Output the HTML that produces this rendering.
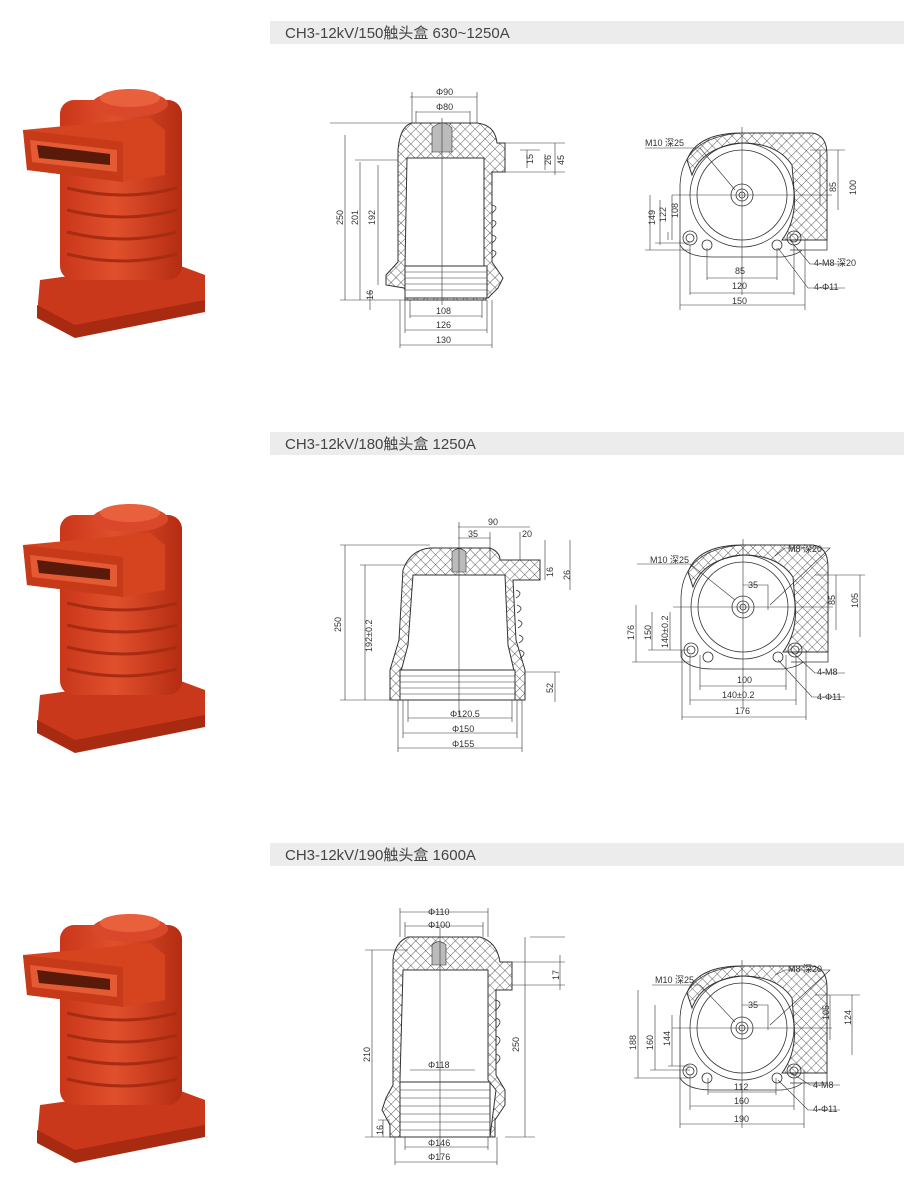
<!DOCTYPE html>
<html><head><meta charset="utf-8"><style>
body{margin:0;background:#fff;}
svg{display:block}
text{font-family:"Liberation Sans","Noto Sans CJK SC",sans-serif;fill:#333}
.h{font-size:15px;fill:#444}
.d{font-size:9px}
.l{stroke:#333;stroke-width:0.8;fill:none}
.t{stroke:#333;stroke-width:0.6;fill:none}
.hx{fill:url(#xh);stroke:#333;stroke-width:1;fill-rule:evenodd}
</style></head><body>
<svg width="904" height="1187" viewBox="0 0 904 1187" xmlns="http://www.w3.org/2000/svg">
<defs>
<pattern id="xh" width="7" height="7" patternUnits="userSpaceOnUse" patternTransform="rotate(45)">
<rect width="7" height="7" fill="#fff"/><path d="M0 0H7M0 0V7" stroke="#333" stroke-width="0.8"/>
</pattern>
<linearGradient id="rg" x1="0" x2="1"><stop offset="0" stop-color="#c9361a"/><stop offset="0.45" stop-color="#e0502c"/><stop offset="1" stop-color="#b52c12"/></linearGradient>
<g id="prod">
<path d="M35 190 L165 172 L200 185 L200 220 L70 245 L32 225 Z" fill="#c9381b"/>
<path d="M32 215 L70 235 L200 210 L200 222 L70 248 L32 228Z" fill="#a82a10"/>
<rect x="55" y="10" width="122" height="180" rx="14" fill="url(#rg)"/>
<g fill="none" stroke="#a82c12" stroke-width="3">
<path d="M62 98 Q118 112 172 98"/><path d="M62 120 Q118 134 172 120"/><path d="M62 142 Q118 156 172 142"/><path d="M62 164 Q118 178 172 164"/></g>
<ellipse cx="125" cy="14" rx="38" ry="13" fill="#d9482a"/>
<ellipse cx="125" cy="8" rx="30" ry="9" fill="#e8603c"/>
<path d="M18 40 L145 28 L160 40 L160 85 L118 92 L22 80 Z" fill="#d5441f"/>
<path d="M18 40 L118 52 L118 92 L22 80 Z" fill="#c63a1a"/>
<path d="M25 50 L112 60 L112 82 L27 72Z" fill="#e35a33"/>
<path d="M32 55 L105 64 L105 75 L34 68Z" fill="#5a1a0a"/>
</g>
<g id="top">
<path class="hx" d="M-55 -35 Q-45 -62 0 -62 L70 -62 Q85 -60 85 -40 L85 45 L40 45 Q55 25 52 -5 L50 -30 Q35 -52 0 -52 Q-40 -48 -50 -20 Z"/>
<path class="l" d="M-62 50 L-62 -10 Q-60 -58 0 -62 M85 45 L85 55 L48 55 M-62 50 Q-55 62 -30 62 L40 62 Q55 60 60 55"/>
<circle class="l" cx="0" cy="0" r="52"/><circle class="l" cx="0" cy="0" r="45"/>
<circle class="l" cx="0" cy="0" r="11"/><circle class="l" cx="0" cy="0" r="6"/><circle class="l" cx="0" cy="0" r="3"/>
<circle class="l" cx="-52" cy="43" r="7"/><circle class="l" cx="-52" cy="43" r="4"/>
<circle class="l" cx="52" cy="43" r="7"/><circle class="l" cx="52" cy="43" r="4"/>
<circle class="l" cx="-35" cy="50" r="5"/><circle class="l" cx="35" cy="50" r="5"/>
<path class="t" d="M0 -68 V100 M-70 0 H90"/>
</g>
</defs>

<rect x="270" y="21" width="634" height="23" fill="#ececec"/>
<text class="h" x="285" y="38">CH3-12kV/150触头盒  630~1250A</text>
<rect x="270" y="432" width="634" height="23" fill="#ececec"/>
<text class="h" x="285" y="449">CH3-12kV/180触头盒  1250A</text>
<rect x="270" y="843" width="634" height="23" fill="#ececec"/>
<text class="h" x="285" y="860">CH3-12kV/190触头盒  1600A</text>

<use href="#prod" x="5" y="90"/>
<use href="#prod" x="5" y="505"/>
<use href="#prod" x="5" y="915"/>

<!-- Drawing 1 side -->
<path class="hx" d="M412 123 L477 123 Q495 125 497 143 L505 143 L505 172 L492 172 L492 262 L503 278 L498 288 L488 298 L410 298 L404 288 L386 285 L386 275 L398 262 L398 150 Q400 126 412 123 Z M407 158 L484 158 L484 268 L486 300 L405 300 L405 266 Z"/>
<rect x="405" y="266" width="82" height="32" fill="#fff" stroke="#333"/>
<path class="t" d="M405 272H487M405 278H487M405 284H487M405 290H487"/>
<path d="M432 128 Q443 118 452 128 L452 152 L432 152Z" fill="#bbb" stroke="#333" stroke-width=".6"/>
<path class="l" d="M492 205 q8 2 0 8 M492 220 q8 2 0 8 M492 235 q8 2 0 8 M492 250 q8 2 0 8"/>
<path class="t" d="M442 118 V305 M412 92 V123 M477 92 V123 M416 111V123M470 111V123 M410 97 H477 M416 112 H470
M330 123 H412 M345 135 V300 M355 160 H398 M360 162 V300 M378 165 V285 M340 300 H405 M370 290 V310
M505 143 H565 M505 172 H565 M520 150 H540 M545 154 V170 M555 143 V175 M527 150 V168
M400 300 V348 M492 300 V348 M405 300 V333 M487 300 V333 M410 300 V318 M482 300 V318 M410 316 H482 M405 330 H487 M400 345 H492"/>
<text class="d" x="436" y="95">Φ90</text><text class="d" x="436" y="110">Φ80</text>
<text class="d" transform="translate(343,225) rotate(-90)">250</text>
<text class="d" transform="translate(358,225) rotate(-90)">201</text>
<text class="d" transform="translate(375,225) rotate(-90)">192</text>
<text class="d" transform="translate(373,300) rotate(-90)">16</text>
<text class="d" transform="translate(533,164) rotate(-90)">15</text>
<text class="d" transform="translate(551,165) rotate(-90)">26</text>
<text class="d" transform="translate(564,165) rotate(-90)">45</text>
<text class="d" x="436" y="314">108</text><text class="d" x="436" y="328">126</text><text class="d" x="436" y="343">130</text>

<use href="#top" x="742" y="195"/>
<path class="t" d="M645 148 H700 L735 190 M668 232 V240 M650 195 V250 M660 200 V245 M672 195 V240 M645 250 H690 M655 243 H690
M820 150 V205 M838 150 V210 M810 150 H845 M707 248 V280 M777 248 V280 M707 278 H777 M690 245 V295 M794 245 V295 M690 293 H794 M680 240 V310 M805 240 V310 M680 305 H805
M790 240 L810 264 H845 M778 248 L808 288 H845"/>
<text class="d" x="645" y="146">M10 深25</text>
<text class="d" transform="translate(655,225) rotate(-90)">149</text>
<text class="d" transform="translate(666,222) rotate(-90)">122</text>
<text class="d" transform="translate(678,218) rotate(-90)">108</text>
<text class="d" transform="translate(836,192) rotate(-90)">85</text>
<text class="d" transform="translate(856,195) rotate(-90)">100</text>
<text class="d" x="735" y="274">85</text><text class="d" x="732" y="289">120</text><text class="d" x="732" y="304">150</text>
<text class="d" x="814" y="266">4-M8 深20</text><text class="d" x="814" y="290">4-Φ11</text>

<!-- Drawing 2 side -->
<path class="hx" d="M430 548 L490 548 Q500 552 500 560 L540 560 L540 580 L513 580 L516 640 L525 670 L525 700 L390 700 L390 670 L399 640 L403 570 Q410 550 430 548 Z M413 575 L505 575 L508 645 L515 675 L515 700 L400 700 L400 675 L408 645 Z"/>
<rect x="400" y="670" width="115" height="30" fill="#fff" stroke="#333"/>
<path class="t" d="M400 676H515M400 682H515M400 688H515M400 694H515"/>
<path class="l" d="M516 590 q8 3 0 8 M517 605 q8 3 0 8 M518 620 q8 3 0 8 M519 635 q8 3 0 8 M520 650 q8 3 0 8"/>
<path d="M452 552 Q459 545 466 552 L466 572 L452 572Z" fill="#bbb" stroke="#333" stroke-width=".6"/>
<path class="t" d="M459 522 V715 M458 527 H530 M458 538 H490 M490 532 V560 M520 532 V560 M340 545 H430 M345 545 V700 M365 565 V700 M360 565 H405 M340 700 H400 M545 540 V580 M570 540 V590 M555 672 V702 M525 672 H560
M408 700 V722 M512 700 V722 M408 718 H512 M403 700 V738 M517 700 V738 M403 733 H517 M398 700 V752 M522 700 V752 M398 748 H522"/>
<text class="d" x="488" y="525">90</text><text class="d" x="468" y="537">35</text><text class="d" x="522" y="537">20</text>
<text class="d" transform="translate(341,632) rotate(-90)">250</text>
<text class="d" transform="translate(372,652) rotate(-90)">192±0.2</text>
<text class="d" transform="translate(553,577) rotate(-90)">16</text>
<text class="d" transform="translate(570,580) rotate(-90)">26</text>
<text class="d" transform="translate(553,693) rotate(-90)">52</text>
<text class="d" x="450" y="717">Φ120.5</text><text class="d" x="452" y="732">Φ150</text><text class="d" x="452" y="747">Φ155</text>

<use href="#top" x="743" y="607"/>
<path class="t" d="M637 564 H690 L735 600 M775 556 L785 548 H830 L770 605 M743 585 H768 V610 M636 605 V662 M652 612 V650 M670 612 V650 M632 662 H690 M648 650 H690 M836 575 V630 M860 575 V637 M815 575 H865
M700 655 V690 M786 655 V690 M700 686 H786 M690 655 V705 M796 655 V705 M690 700 H796 M682 650 V720 M806 650 V720 M682 717 H806 M792 652 L815 673 H845 M778 660 L812 697 H845"/>
<text class="d" x="650" y="563">M10 深25</text><text class="d" x="788" y="552">M8 深20</text><text class="d" x="748" y="588">35</text>
<text class="d" transform="translate(634,640) rotate(-90)">176</text>
<text class="d" transform="translate(651,640) rotate(-90)">150</text>
<text class="d" transform="translate(668,648) rotate(-90)">140±0.2</text>
<text class="d" transform="translate(835,605) rotate(-90)">85</text>
<text class="d" transform="translate(858,608) rotate(-90)">105</text>
<text class="d" x="737" y="683">100</text><text class="d" x="722" y="698">140±0.2</text><text class="d" x="735" y="714">176</text>
<text class="d" x="817" y="675">4-M8</text><text class="d" x="817" y="700">4-Φ11</text>

<!-- Drawing 3 side -->
<path class="hx" d="M408 937 L480 937 Q497 942 500 962 L512 962 L512 990 L496 990 L496 1075 L505 1090 L505 1105 L495 1120 L495 1137 L390 1137 L390 1125 L382 1110 L386 1098 L393 1085 L393 960 Q395 942 408 937 Z M403 970 L488 970 L488 1080 L496 1090 L490 1137 L400 1137 L400 1080 Z"/>
<rect x="400" y="1082" width="90" height="55" fill="#fff" stroke="#333"/>
<path class="t" d="M400 1090H490M400 1098H490M400 1106H490M400 1114H490M400 1122H490M400 1130H490"/>
<path class="l" d="M496 1000 q8 3 0 10 M496 1018 q8 3 0 10 M496 1036 q8 3 0 10 M496 1054 q8 3 0 10"/>
<path d="M432 945 Q439 938 446 945 L446 965 L432 965Z" fill="#bbb" stroke="#333" stroke-width=".6"/>
<path class="t" d="M440 928 V1160 M400 908 V937 M488 908 V937 M405 922 V937 M483 922 V937 M400 912 H488 M405 926 H483
M365 950 H408 M372 950 V1137 M365 1137 H400 M378 1120 H390 M383 1120 V1137 M512 962 H565 M512 985 H565 M560 955 V990 M530 937 H565 M525 937 V1137 M505 1137 H535
M405 1137 V1150 M488 1137 V1150 M405 1147 H488 M395 1137 V1165 M497 1137 V1165 M395 1162 H497 M410 1070 H475"/>
<text class="d" x="428" y="915">Φ110</text><text class="d" x="428" y="928">Φ100</text>
<text class="d" transform="translate(370,1062) rotate(-90)">210</text>
<text class="d" transform="translate(383,1135) rotate(-90)">16</text>
<text class="d" transform="translate(519,1052) rotate(-90)">250</text>
<text class="d" transform="translate(559,980) rotate(-90)">17</text>
<text class="d" x="428" y="1068">Φ118</text>
<text class="d" x="428" y="1146">Φ146</text><text class="d" x="428" y="1160">Φ176</text>

<use href="#top" x="742" y="1028"/>
<path class="t" d="M652 985 H700 L735 1022 M775 975 L785 970 H830 L770 1025 M742 1005 H768 V1030 M638 990 V1078 M655 1005 V1070 M672 1015 V1066 M634 1078 H690 M650 1070 H690 M668 1066 H690 M830 995 V1040 M852 995 V1055 M815 995 H860
M708 1078 V1095 M776 1078 V1095 M708 1092 H776 M690 1075 V1110 M794 1075 V1110 M690 1106 H794 M680 1070 V1128 M804 1070 V1128 M680 1124 H804 M790 1072 L810 1085 H840 M778 1080 L808 1110 H840"/>
<text class="d" x="655" y="983">M10 深25</text><text class="d" x="788" y="972">M8 深20</text><text class="d" x="748" y="1008">35</text>
<text class="d" transform="translate(636,1050) rotate(-90)">188</text>
<text class="d" transform="translate(653,1050) rotate(-90)">160</text>
<text class="d" transform="translate(670,1046) rotate(-90)">144</text>
<text class="d" transform="translate(829,1020) rotate(-90)">105</text>
<text class="d" transform="translate(851,1025) rotate(-90)">124</text>
<text class="d" x="734" y="1090">112</text><text class="d" x="734" y="1104">160</text><text class="d" x="734" y="1122">190</text>
<text class="d" x="813" y="1088">4-M8</text><text class="d" x="813" y="1112">4-Φ11</text>
</svg>
</body></html>
